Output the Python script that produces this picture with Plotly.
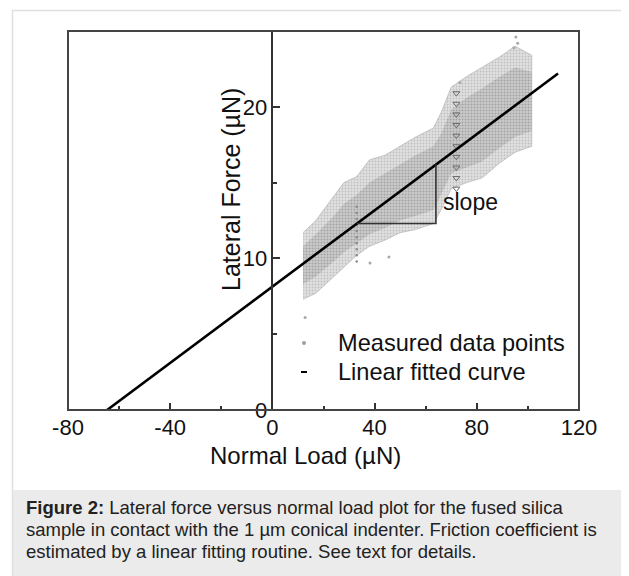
import plotly.graph_objects as go

# ---------------- data ----------------
# measured data cloud: envelope of the point cloud at given normal loads (µN)
cloud_x = [12, 17, 24, 28, 33, 38, 44, 50, 56, 63, 66, 70, 76, 82, 89, 95, 101.5]
cloud_upper = [11.7, 12.5, 14.1, 15.0, 15.4, 16.5, 16.8, 17.4, 18.0, 18.6, 19.6, 21.3, 22.0, 22.6, 23.3, 24.0, 23.4]
cloud_lower = [7.3, 7.7, 8.8, 9.4, 10.2, 10.8, 11.2, 11.7, 11.9, 12.3, 13.2, 14.6, 15.0, 15.3, 16.3, 17.0, 17.4]
# denser core of the cloud
core_upper = [10.8, 11.6, 12.8, 13.6, 14.2, 15.0, 15.6, 16.2, 16.8, 17.4, 18.2, 19.8, 20.6, 21.2, 22.0, 22.6, 22.3]
core_lower = [8.3, 8.8, 9.8, 10.4, 11.0, 11.6, 12.0, 12.5, 12.8, 13.2, 14.2, 15.6, 16.0, 16.4, 17.3, 18.0, 18.4]
# column of chevron-like points near 72 µN
chevron_x = [72, 72, 72, 72, 72, 72, 72, 72, 72, 72]
chevron_y = [14.6, 15.3, 16.0, 16.7, 17.4, 18.1, 18.8, 19.5, 20.2, 20.9]
# dotted column near 33 µN
dotcol_x = [33, 33, 33, 33, 33, 33, 33, 33, 33, 33]
dotcol_y = [9.8, 10.2, 10.6, 11.0, 11.4, 11.8, 12.2, 12.6, 13.0, 13.4]
# scattered outliers
out_x = [95.3, 96.0, 94.5, 73.4, 45.6, 38.2, 12.8]
out_y = [24.6, 24.2, 23.9, 21.6, 10.1, 9.7, 6.1]

# linear fitted curve end points
fit_x = [-64.7, 111.8]
fit_y = [0.0, 22.2]

# slope triangle
tri_x = [33, 64, 64]
tri_y = [12.3, 12.3, 16.2]

x_range = [-80, 120]
y_range = [0, 25]
x_tickvals = [-80, -40, 0, 40, 80, 120]
x_ticktext = ["-80", "-40", "0", "40", "80", "120"]
y_tickvals = [0, 10, 20]
y_ticktext = ["0", "10", "20"]

caption_lines = [
    "<b>Figure 2:</b> Lateral force versus normal load plot for the fused silica",
    "sample in contact with the 1 µm conical indenter. Friction coefficient is",
    "estimated by a linear fitting routine. See text for details.",
]

FONT = "Liberation Sans, Arial, sans-serif"

# ---------------- page geometry (page pixels; body margin is 8 px) ----------------
OFF = 8
PAGE_W, PAGE_H = 629, 576
W, H = PAGE_W - OFF, PAGE_H - OFF
L, R, T, B = 68, 579, 31, 410  # plot frame in page pixels


def px(xp):
    return (xp - L) / (R - L)


def py(yp):
    return (B - yp) / (B - T)


fig = go.Figure()

# outer band of the cloud
fig.add_trace(go.Scatter(
    x=cloud_x + cloud_x[::-1], y=cloud_upper + cloud_lower[::-1],
    mode="lines", fill="toself", line=dict(width=0.8, color="rgba(175,175,175,0.8)"),
    fillcolor="#dedede",
    fillpattern=dict(shape=".", fgcolor="#a0a0a0", bgcolor="#e0e0e0", size=3, solidity=0.3),
    hoverinfo="skip", showlegend=False))
# denser core
fig.add_trace(go.Scatter(
    x=cloud_x + cloud_x[::-1], y=core_upper + core_lower[::-1],
    mode="lines", fill="toself", line=dict(width=0),
    fillcolor="#c4c4c4",
    fillpattern=dict(shape=".", fgcolor="#7e7e7e", bgcolor="#cbcbcb", size=3, solidity=0.4),
    hoverinfo="skip", showlegend=False))
fig.add_trace(go.Scatter(
    x=chevron_x, y=chevron_y, mode="markers",
    marker=dict(symbol="triangle-down-open", size=6, color="#6a6a6a", line=dict(width=1)),
    hoverinfo="skip", showlegend=False))
fig.add_trace(go.Scatter(
    x=dotcol_x, y=dotcol_y, mode="markers",
    marker=dict(symbol="circle", size=2.5, color="#8a8a8a"),
    hoverinfo="skip", showlegend=False))
fig.add_trace(go.Scatter(
    x=out_x, y=out_y, mode="markers",
    marker=dict(symbol="circle", size=3, color="#a8a8a8"),
    hoverinfo="skip", showlegend=False))

# fitted line
fig.add_trace(go.Scatter(
    x=fit_x, y=fit_y, mode="lines", line=dict(color="black", width=2.6),
    hoverinfo="skip", showlegend=False))
# slope triangle
fig.add_trace(go.Scatter(
    x=tri_x, y=tri_y, mode="lines", line=dict(color="#333333", width=1.6),
    hoverinfo="skip", showlegend=False))

shapes = [
    # plot frame
    dict(type="rect", xref="paper", yref="paper", x0=0, y0=0, x1=1, y1=1,
         line=dict(color="#444444", width=2), layer="above"),
    # caption box
    dict(type="rect", xref="paper", yref="paper", x0=px(12), x1=px(640), y0=py(490), y1=py(590),
         fillcolor="#ebebeb", line=dict(width=0), layer="below"),
    # light outer border
    dict(type="line", xref="paper", yref="paper", x0=px(12), x1=px(640), y0=py(10.5), y1=py(10.5),
         line=dict(color="#e0e0e0", width=1.5)),
    dict(type="line", xref="paper", yref="paper", x0=px(12.5), x1=px(12.5), y0=py(10), y1=py(590),
         line=dict(color="#e0e0e0", width=1.5)),
    # legend glyphs
    dict(type="circle", xref="paper", yref="paper", x0=px(302), x1=px(306), y0=py(345), y1=py(341),
         fillcolor="#a0a0a0", line=dict(width=0)),
    dict(type="line", xref="paper", yref="paper", x0=px(301), x1=px(307), y0=py(372), y1=py(372),
         line=dict(color="black", width=2)),
]

annotations = [
    dict(text="Normal Load (µN)", xref="paper", yref="paper", x=px(305), y=py(455),
         xanchor="center", yanchor="middle", showarrow=False,
         font=dict(family=FONT, size=24, color="#111111")),
    dict(text="Lateral Force (µN)", xref="paper", yref="paper", x=px(231), y=py(190),
         xanchor="center", yanchor="middle", showarrow=False, textangle=-90,
         font=dict(family=FONT, size=25, color="#111111")),
    dict(text="slope", xref="x", yref="y", x=66.0, y=13.7,
         xanchor="left", yanchor="middle", showarrow=False,
         font=dict(family=FONT, size=23, color="#111111")),
    dict(text="Measured data points", xref="paper", yref="paper", x=px(336), y=py(343),
         xanchor="left", yanchor="middle", showarrow=False,
         font=dict(family=FONT, size=23.6, color="#111111")),
    dict(text="Linear fitted curve", xref="paper", yref="paper", x=px(336), y=py(372),
         xanchor="left", yanchor="middle", showarrow=False,
         font=dict(family=FONT, size=23.6, color="#111111")),
]
for i, line in enumerate(caption_lines):
    annotations.append(dict(
        text=line, xref="paper", yref="paper", x=px(24), y=py(508 + 21.5 * i),
        xanchor="left", yanchor="middle", align="left", showarrow=False,
        font=dict(family=FONT, size=18.5, color="#222222")))

fig.update_layout(
    width=W, height=H, autosize=False,
    margin=dict(l=L - OFF, r=PAGE_W - R, t=T - OFF, b=PAGE_H - B, pad=0),
    paper_bgcolor="white", plot_bgcolor="white",
    font=dict(family=FONT, color="#111111"),
    showlegend=False,
    shapes=shapes, annotations=annotations,
    xaxis=dict(range=x_range, tickmode="array", tickvals=x_tickvals, ticktext=x_ticktext,
               ticks="inside", ticklen=7, tickwidth=1.5,
               tickcolor="#333333", showgrid=False, zeroline=False, showline=False,
               tickfont=dict(family=FONT, size=22, color="#111111"), ticklabelstandoff=2,
               minor=dict(dtick=20, tick0=-80, ticks="inside", ticklen=4, tickwidth=1.5,
                          tickcolor="#333333", showgrid=False)),
    yaxis=dict(range=y_range, tickmode="array", tickvals=y_tickvals, ticktext=y_ticktext,
               ticks="inside", ticklen=7, tickwidth=1.5,
               tickcolor="#333333", showgrid=False, zeroline=False, showline=True,
               linecolor="#333333", linewidth=1.5, anchor="free", position=0.4,
               tickfont=dict(family=FONT, size=22, color="#111111"),
               minor=dict(dtick=5, tick0=0, ticks="inside", ticklen=4, tickwidth=1.5,
                          tickcolor="#333333", showgrid=False)),
)

fig.write_html("out.html")
